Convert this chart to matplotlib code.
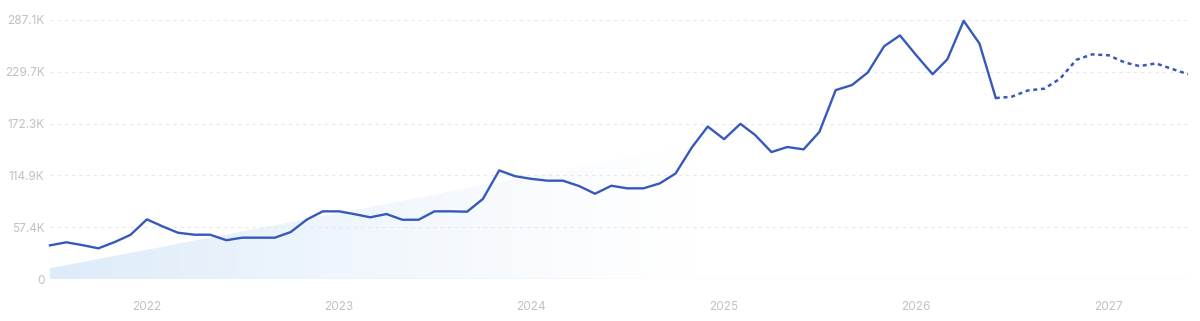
import numpy as np
import pandas as pd
import matplotlib
matplotlib.use("Agg")
import matplotlib.pyplot as plt
import matplotlib.dates as mdates
from matplotlib.colors import LinearSegmentedColormap

# monthly search volume (thousands), Jul 2021 - Jun 2026
history = [37.3, 40.7, 37.5, 34.0, 41.0, 49.0, 66.1, 58.0, 51.3, 49.1,
           49.1, 43.0, 45.8, 45.8, 45.8, 52.0, 66.0, 75.0, 75.0, 71.7,
           68.4, 72.0, 65.7, 65.7, 75.0, 75.0, 74.6, 88.7, 120.4, 114.0,
           111.0, 109.0, 109.0, 103.0, 94.5, 103.4, 100.5, 100.5, 106.0, 117.0,
           146.0, 169.0, 155.0, 172.0, 159.6, 140.7, 146.3, 143.7, 163.0, 209.4,
           215.0, 229.0, 258.0, 270.0, 248.0, 227.0, 243.5, 286.2, 261.0, 200.6]
# forecast, Jun 2026 - Jun 2027
forecast = [200.6, 202.0, 209.0, 211.0, 222.0, 243.0, 249.0, 248.0, 240.0,
            236.0, 239.0, 233.0, 227.0]
# decorative trend wedge (start / slope per month)
trend_start = 12.0
trend_slope = 3.4

yticks = [0, 57.4, 114.9, 172.3, 229.7, 287.1]
ylabels = ["0", "57.4K", "114.9K", "172.3K", "229.7K", "287.1K"]
years = [2022, 2023, 2024, 2025, 2026, 2027]

months = pd.date_range("2021-07-01", periods=len(history), freq="MS")
fc_months = pd.date_range(months[-1], periods=len(forecast), freq="MS")
all_months = months.append(fc_months[1:])

line_color = "#3659bb"
plt.rcParams["font.family"] = ["Inter", "DejaVu Sans"]

fig = plt.figure(figsize=(12, 3.21), dpi=100)
ax = fig.add_axes([50 / 1200, 42 / 321, 1138 / 1200, 259 / 321])

# gradient wedge in background, fading to the right
idx = np.arange(len(all_months))
trend = trend_start + trend_slope * idx
xnum = mdates.date2num(all_months)
poly = ax.fill_between(all_months, 0, trend, color="none", lw=0)
cmap = LinearSegmentedColormap.from_list("fade", [(0.87, 0.925, 0.98, 1.0), (0.87, 0.925, 0.98, 0.0)])
t = np.linspace(0, 1, 512).reshape(1, -1)
grad = 1 - (1 - np.clip(t / 0.58, 0, 1)) ** 1.3
im = ax.imshow(grad, cmap=cmap, vmin=0, vmax=1, aspect="auto",
               extent=[xnum[0], xnum[-1], 0, 287.1], origin="lower", zorder=0)
im.set_clip_path(poly.get_paths()[0], transform=ax.transData)

ax.plot(months, history, color=line_color, lw=1.7, solid_joinstyle="round", clip_on=False, zorder=3)
ax.plot(fc_months, forecast, color=line_color, lw=1.8, linestyle=(0, (1.6, 1.5)),
        clip_on=False, zorder=3)

ax.set_ylim(0, 287.1)
ax.set_xlim(xnum[0], xnum[-1])
ax.set_yticks(yticks)
ax.set_yticklabels(ylabels)
ax.set_xticks([pd.Timestamp(f"{y}-01-01") for y in years])
ax.set_xticklabels([str(y) for y in years])

for y in yticks[1:]:
    ax.axhline(y, color="#e5e8ee", lw=0.8, linestyle=(0, (3, 3.5)), zorder=1)
ax.axhline(0, color="#e6eaf0", lw=1.0, zorder=1)

for s in ax.spines.values():
    s.set_visible(False)
ax.tick_params(axis="both", length=0, colors="#bfc1c5", labelsize=8.5)
ax.tick_params(axis="x", pad=16)
ax.tick_params(axis="y", pad=4)

fig.savefig("out.png", dpi=100, facecolor="white")
